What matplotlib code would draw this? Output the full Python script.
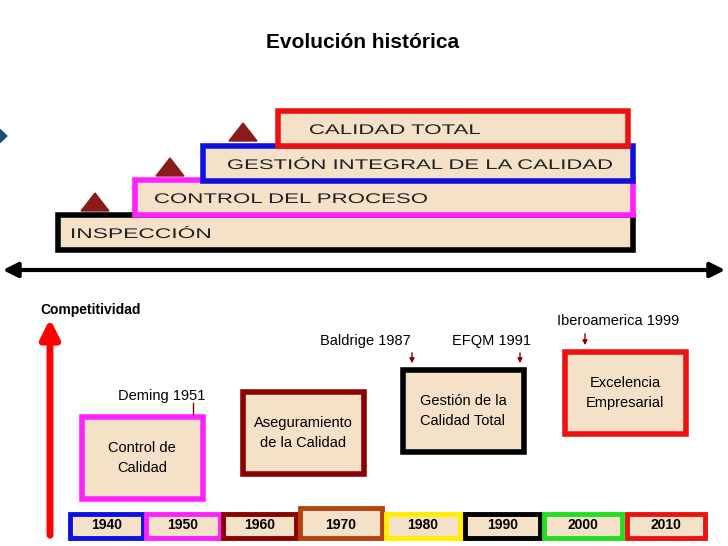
import matplotlib
matplotlib.use("Agg")
import matplotlib.pyplot as plt
from matplotlib.patches import Rectangle, Polygon, FancyArrowPatch, PathPatch
from matplotlib.textpath import TextPath
from matplotlib.font_manager import FontProperties
from matplotlib.transforms import Affine2D

plt.rcParams['font.family'] = ['Liberation Sans', 'DejaVu Sans']
FILL = '#f5e1c8'

stair_labels = ["INSPECCIÓN", "CONTROL DEL PROCESO", "GESTIÓN INTEGRAL DE LA CALIDAD", "CALIDAD TOTAL"]
stair_colors = ['black', '#ff22ff', '#1010e0', '#ee1111']
stair_x = [58, 135, 203, 278]
stair_right = [633, 633, 633, 628]
stair_y = [215, 180, 146, 111]
stair_text_x = [72, 155, 228, 310]
stair_text_w = [138, 272, 384, 170]

box_labels = ["Control de\nCalidad", "Aseguramiento\nde la Calidad", "Gestión de la\nCalidad Total", "Excelencia\nEmpresarial"]
box_colors = ['#ff22ff', '#8b0000', 'black', '#ee1111']
box_x = [82, 243, 403, 565]
box_y = [417, 392, 370, 352]

years = ["1940", "1950", "1960", "1970", "1980", "1990", "2000", "2010"]
year_colors = ['#1010e0', '#ff22ff', '#8b0000', '#b5420f', '#ffee00', 'black', '#22dd22', '#ee1111']
year_x = [70, 146, 223, 300, 386, 465, 544, 627]
year_w = [73, 74, 73, 82, 74, 75, 78, 78]

fig = plt.figure(figsize=(7.28, 5.46), dpi=100)
ax = fig.add_axes([0, 0, 1, 1])
ax.set_xlim(0, 728); ax.set_ylim(546, 0); ax.axis('off')

ax.text(363, 43, "Evolución histórica", ha='center', va='center', fontsize=15, fontweight='bold')
ax.add_patch(Polygon([[-5, 125], [7, 136], [-5, 147]], closed=True, color='#1f4e79'))

fp = FontProperties(family='Liberation Sans')
for lab, c, x, r, y, tx, tw in zip(stair_labels, stair_colors, stair_x, stair_right, stair_y, stair_text_x, stair_text_w):
    ax.add_patch(Rectangle((x, y), r - x, 35, facecolor=FILL, edgecolor=c, lw=4))
    tp = TextPath((0, 0), lab, size=14, prop=fp)
    ext = tp.get_extents()
    sx = tw / ext.width
    tr = Affine2D().translate(-ext.x0, 0).scale(sx, -1).translate(tx, y + 23)
    ax.add_patch(PathPatch(tr.transform_path(tp), facecolor='#222222', edgecolor='none'))
for cx, cy in [(95, 203), (170, 168), (243, 133)]:
    ax.add_patch(Polygon([[cx - 14, cy + 8], [cx, cy - 10], [cx + 14, cy + 8]], closed=True, color='#8b1a1a'))

ax.add_patch(FancyArrowPatch((0, 270), (728, 270), arrowstyle='<|-|>', mutation_scale=22, lw=3, color='black'))
ax.text(40, 310, "Competitividad", fontsize=10, fontweight='bold', va='center')
ax.add_patch(FancyArrowPatch((50, 538), (50, 316), arrowstyle='-|>', mutation_scale=28, lw=5, color='#ff0000'))

for lab, c, x, y in zip(box_labels, box_colors, box_x, box_y):
    ax.add_patch(Rectangle((x, y), 121, 82, facecolor=FILL, edgecolor=c, lw=4))
    ax.text(x + 60, y + 41, lab, ha='center', va='center', fontsize=10.5, linespacing=1.5)

ax.text(162, 396, "Deming 1951", ha='center', va='center', fontsize=10.5)
ax.plot([193, 193], [403, 414], color='#8b0000', lw=1)
ax.text(365, 341, "Baldrige 1987", ha='center', va='center', fontsize=10.5)
ax.text(492, 341, "EFQM 1991", ha='center', va='center', fontsize=10.5)
ax.text(618, 321, "Iberoamerica 1999", ha='center', va='center', fontsize=10.5)
for ax_x, y0, y1 in [(412, 350, 366), (520, 350, 366), (585, 331, 348)]:
    ax.add_patch(FancyArrowPatch((ax_x, y0), (ax_x, y1), arrowstyle='-|>', mutation_scale=7, lw=1, color='#8b0000'))

for yr, c, x, w in zip(years, year_colors, year_x, year_w):
    top = 508 if yr == "1970" else 514
    ax.add_patch(Rectangle((x, top), w, 538 - top, facecolor=FILL, edgecolor=c, lw=3.5))
    ax.text(x + w / 2, 525, yr, ha='center', va='center', fontsize=10, fontweight='bold')

fig.savefig("out.png", dpi=100)
